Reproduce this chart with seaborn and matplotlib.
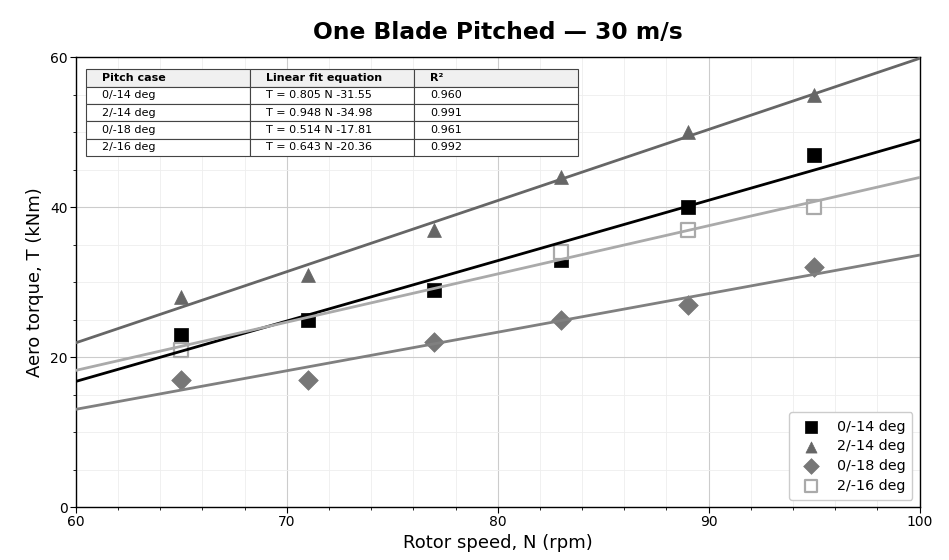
import numpy as np
import pandas as pd
import matplotlib
matplotlib.use("Agg")
import matplotlib.pyplot as plt
import seaborn as sns
from matplotlib.ticker import MultipleLocator

sns.set_theme(style="whitegrid")
plt.rcParams['font.family'] = ['DejaVu Sans']
plt.rcParams['text.color'] = 'black'
plt.rcParams['axes.labelcolor'] = 'black'
plt.rcParams['xtick.color'] = 'black'
plt.rcParams['ytick.color'] = 'black'

# ---- data ----
rotor_speed = [65, 71, 77, 83, 89, 95]
case_labels = ["0/-14 deg", "2/-14 deg", "0/-18 deg", "2/-16 deg"]
torque_0_14 = [23, 25, 29, 33, 40, 47]
torque_2_14 = [28, 31, 37, 44, 50, 55]
torque_0_18 = [17, 17, 22, 25, 27, 32]
torque_2_16 = [21, np.nan, np.nan, 34, 37, 40]
fit_slopes = [0.805, 0.948, 0.514, 0.643]
fit_intercepts = [-31.55, -34.98, -17.81, -20.36]
r_squared = ["0.960", "0.991", "0.961", "0.992"]
fit_text = ["T = 0.805 N -31.55", "T = 0.948 N -34.98", "T = 0.514 N -17.81", "T = 0.643 N -20.36"]
x_range = [60, 100]

series = [torque_0_14, torque_2_14, torque_0_18, torque_2_16]
marker_styles = ['s', '^', 'D', 's']
marker_colors = ['#000000', '#666666', '#777777', '#aaaaaa']
marker_sizes = [100, 100, 100, 100]
line_colors = ['#000000', '#666666', '#808080', '#aaaaaa']

fig = plt.figure(figsize=(9.49, 5.6), dpi=100)
ax = fig.add_axes([0.080, 0.0946, 0.889, 0.8036])

# markers
for i, (ys, lab, mk, mc, ms) in enumerate(zip(series, case_labels, marker_styles, marker_colors, marker_sizes)):
    if i == 3:
        sns.scatterplot(x=rotor_speed, y=ys, marker=mk, s=ms, facecolor='white',
                        edgecolor=mc, linewidth=1.6, label=lab, ax=ax, zorder=2)
    else:
        sns.scatterplot(x=rotor_speed, y=ys, marker=mk, s=ms, color=mc,
                        edgecolor=mc, linewidth=0.5, label=lab, ax=ax, zorder=2)

# fit lines
for slope, icpt, lc in zip(fit_slopes, fit_intercepts, line_colors):
    xs = np.array(x_range, dtype=float)
    sns.lineplot(x=xs, y=slope * xs + icpt, color=lc, linewidth=2, ax=ax, zorder=3)

ax.set_xlim(60, 100)
ax.set_ylim(0, 60)
ax.xaxis.set_major_locator(MultipleLocator(10))
ax.xaxis.set_minor_locator(MultipleLocator(2))
ax.yaxis.set_major_locator(MultipleLocator(20))
ax.yaxis.set_minor_locator(MultipleLocator(5))
ax.grid(which='major', color='#cccccc', linewidth=0.8)
ax.grid(which='minor', color='#eeeeee', linewidth=0.6)
ax.set_axisbelow(True)
ax.set_facecolor('white')
for sp in ax.spines.values():
    sp.set_color('black')
    sp.set_linewidth(1.0)
ax.tick_params(which='major', direction='out', length=4, width=0.8, color='black',
               labelsize=10, left=True, bottom=True, pad=2)
ax.tick_params(which='minor', direction='out', length=2.5, width=0.6, color='black',
               left=True, bottom=True)

ax.set_xlabel("Rotor speed, N (rpm)", fontsize=13, labelpad=3)
ax.set_ylabel("Aero torque, T (kNm)", fontsize=13, labelpad=4)
ax.set_title("One Blade Pitched — 30 m/s", fontsize=16.8, fontweight='bold', pad=13,
             color='black')

leg = ax.legend(loc='lower right', fontsize=10.3, frameon=True, framealpha=1.0,
                edgecolor='#cccccc', borderpad=0.5, handletextpad=0.8,
                labelspacing=0.4, scatterpoints=1, markerscale=0.8)

# table
cell_text = [[c, f, r] for c, f, r in zip(case_labels, fit_text, r_squared)]
tbl = ax.table(cellText=cell_text, colLabels=["Pitch case", "Linear fit equation", "R²"],
               cellLoc='left', colLoc='left',
               bbox=[0.0118, 0.78, 0.583, 0.193], zorder=5)
tbl.auto_set_font_size(False)
tbl.set_fontsize(8)
for (r, c), cell in tbl.get_celld().items():
    cell.set_edgecolor('#444444')
    cell.set_linewidth(0.8)
    cell.PAD = 0.1
    cell.get_text().set_color('black')
    if r == 0:
        cell.set_facecolor('#f0f0f0')
        cell.get_text().set_fontweight('bold')
    else:
        cell.set_facecolor('white')

fig.savefig("out.png", dpi=100)
